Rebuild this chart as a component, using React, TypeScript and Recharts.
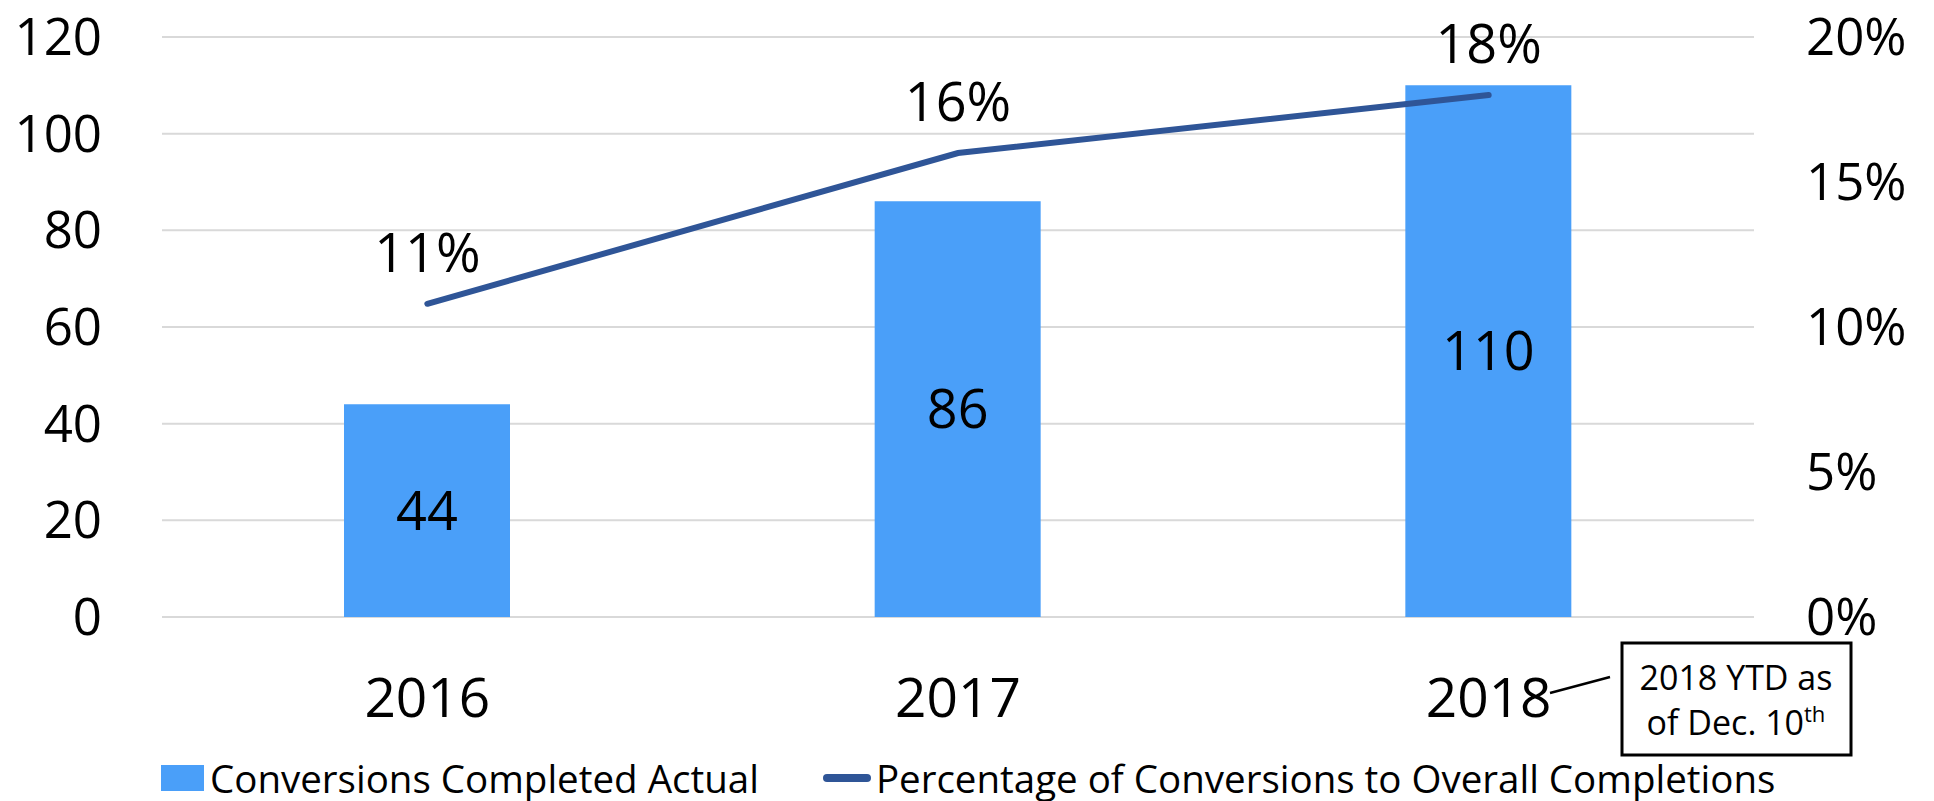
import React from 'react';
import { ComposedChart, Bar, Line, XAxis, YAxis, CartesianGrid, Legend, LabelList } from 'recharts';

const years = ['2016', '2017', '2018'];
const conversions = [44, 86, 110];
const percentages = [0.108, 0.16, 0.18];
const leftTicks = [0, 20, 40, 60, 80, 100, 120];
const rightTicks = [0, 0.05, 0.1, 0.15, 0.2];
const seriesNames = ['Conversions Completed Actual', 'Percentage of Conversions to Overall Completions'];
const noteLine1 = '2018 YTD as';
const noteLine2 = 'of Dec. 10';
const noteSup = 'th';

const data = years.map((y, i) => ({ year: y, conv: conversions[i], pct: percentages[i] }));

const FONT = '"Open Sans", sans-serif';
const BAR = '#4A9FF9';
const LINE = '#2F5597';
const GRID = '#D9D9D9';

const pctFmt = (v: number) => `${Math.round(v * 100)}%`;

const renderLegend = (props: any) => {
  const payload = props.payload || [];
  return (
    <div
      style={{
        display: 'flex',
        alignItems: 'center',
        height: 40,
        lineHeight: '40px',
        paddingLeft: 161,
        fontFamily: FONT,
        fontSize: 38.5,
        color: '#000',
        whiteSpace: 'nowrap',
      }}
    >
      {payload.map((e: any, i: number) => (
        <div key={i} style={{ display: 'flex', alignItems: 'center', marginRight: 64 }}>
          {e.type === 'rect' ? (
            <span style={{ display: 'inline-block', width: 43, height: 26, background: e.color, marginRight: 6 }} />
          ) : (
            <span style={{ display: 'inline-block', width: 48, height: 8, borderRadius: 4, background: e.color, marginRight: 5 }} />
          )}
          <span>{e.value}</span>
        </div>
      ))}
    </div>
  );
};

export default function App() {
  return (
    <div style={{ position: 'absolute', left: 0, top: 0, width: 1934, height: 801, background: '#fff' }}>
      <ComposedChart width={1934} height={801} data={data} margin={{ top: 37, right: 0, bottom: 0, left: 0 }}>
        <CartesianGrid yAxisId="left" vertical={false} stroke={GRID} strokeWidth={2} />
        <XAxis
          dataKey="year"
          axisLine={false}
          tickLine={false}
          tickSize={0}
          tickMargin={61}
          height={144}
          tick={{ fontSize: 55, fill: '#000', fontFamily: FONT }}
        />
        <YAxis
          yAxisId="left"
          orientation="left"
          width={162}
          domain={[0, 120]}
          ticks={leftTicks}
          axisLine={false}
          tickLine={false}
          tickSize={0}
          tickMargin={60}
          tick={{ fontSize: 51, fill: '#000', fontFamily: FONT }}
        />
        <YAxis
          yAxisId="right"
          orientation="right"
          width={180}
          domain={[0, 0.2]}
          ticks={rightTicks}
          axisLine={false}
          tickLine={false}
          tickSize={0}
          tickMargin={52}
          tickFormatter={pctFmt}
          tick={{ fontSize: 51, fill: '#000', fontFamily: FONT }}
        />
        <Legend content={renderLegend} wrapperStyle={{ top: 758, left: 0, width: 1934, height: 40 }} />
        <Bar yAxisId="left" dataKey="conv" name={seriesNames[0]} fill={BAR} barSize={166} isAnimationActive={false}>
          <LabelList dataKey="conv" position="center" fill="#000" fontSize={54} fontFamily={FONT} />
        </Bar>
        <Line
          yAxisId="right"
          dataKey="pct"
          name={seriesNames[1]}
          stroke={LINE}
          strokeWidth={6}
          strokeLinecap="round"
          dot={false}
          activeDot={false}
          isAnimationActive={false}
        >
          <LabelList dataKey="pct" position="top" offset={32} formatter={pctFmt} fill="#000" fontSize={54} fontFamily={FONT} />
        </Line>
      </ComposedChart>
      <svg width={1934} height={801} style={{ position: 'absolute', left: 0, top: 0, pointerEvents: 'none' }}>
        <line x1={1550} y1={693} x2={1610} y2={677} stroke="#000" strokeWidth={2.5} />
        <rect x={1622} y={643} width={229} height={112} fill="#fff" stroke="#000" strokeWidth={3} />
        <text x={1736} y={690} textAnchor="middle" fontFamily={FONT} fontSize={34} fill="#000">{noteLine1}</text>
        <text x={1736} y={735} textAnchor="middle" fontFamily={FONT} fontSize={34} fill="#000">
          {noteLine2}
          <tspan fontSize={22} dy={-13}>{noteSup}</tspan>
        </text>
      </svg>
    </div>
  );
}
